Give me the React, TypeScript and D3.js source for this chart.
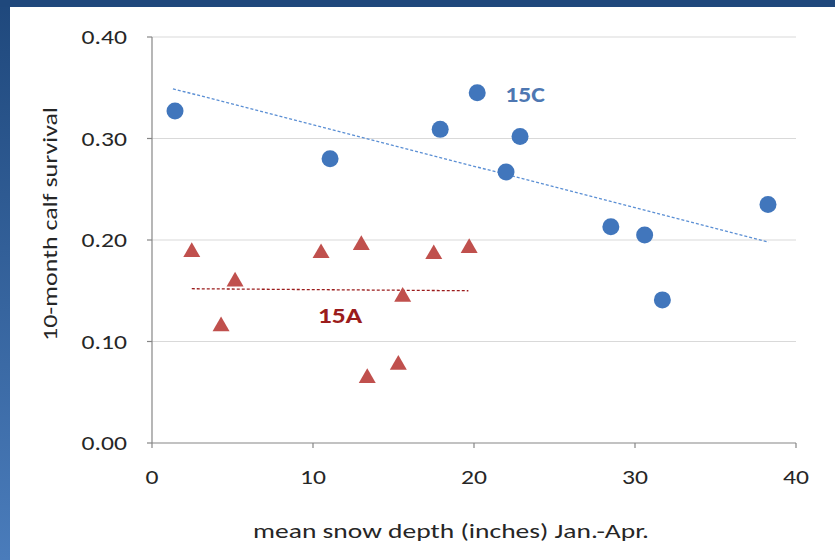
import React from "react";
import * as d3 from "d3";

const xTicks = [0, 10, 20, 30, 40];
const yTicks = [0, 0.1, 0.2, 0.3, 0.4];

const c15X = [1.43, 11.06, 17.9, 20.2, 22.86, 21.99, 28.5, 30.6, 31.7, 38.26];
const c15Y = [0.327, 0.28, 0.309, 0.345, 0.302, 0.267, 0.213, 0.205, 0.141, 0.235];

const a15X = [2.47, 5.16, 4.29, 10.5, 13.0, 17.5, 19.7, 15.57, 13.37, 15.3];
const a15Y = [0.188, 0.159, 0.115, 0.187, 0.195, 0.186, 0.192, 0.144, 0.064, 0.077];

const trendC = [[1.3, 0.349], [38.3, 0.198]];
const trendA = [[2.47, 0.152], [19.65, 0.15]];

const FONT = "Carlito, Lato, 'Open Sans', sans-serif";

function SText(props: {
  x: number;
  y: number;
  sx: number;
  rotate?: number;
  anchor: string;
  size: number;
  fill: string;
  bold?: boolean;
  children: React.ReactNode;
}) {
  const { x, y, sx, rotate, anchor, size, fill, bold, children } = props;
  return (
    <g transform={`translate(${x},${y}) rotate(${rotate || 0}) scale(${sx},1)`}>
      <text
        dy="0.35em"
        textAnchor={anchor}
        fontFamily={FONT}
        fontSize={size}
        fontWeight={bold ? "bold" : "normal"}
        fill={fill}
      >
        {children}
      </text>
    </g>
  );
}

export default function App() {
  const W = 835, H = 560;
  const x = d3.scaleLinear().domain([0, 40]).range([152, 796]);
  const y = d3.scaleLinear().domain([0, 0.4]).range([443, 37]);
  const line = d3.line<number[]>().x((d) => x(d[0])).y((d) => y(d[1]));
  const tri = d3.symbol(d3.symbolTriangle, 125)();
  const fmt = d3.format(".2f");

  return (
    <svg width={W} height={H} style={{ position: "absolute", left: 0, top: 0 }}>
      <defs>
        <linearGradient id="lg" x1="0" y1="0" x2="0" y2="1">
          <stop offset="0" stopColor="#1f487c" />
          <stop offset="1" stopColor="#4a7cbb" />
        </linearGradient>
      </defs>
      <rect x={0} y={0} width={W} height={H} fill="url(#lg)" />
      <rect x={0} y={0} width={W} height={7} fill="#1f487c" />
      <rect x={10} y={7} width={W - 10} height={H - 7} fill="#ffffff" />

      {yTicks.map((t) => (
        <g key={"y" + t}>
          {t > 0 && (
            <line x1={x(0)} x2={x(40)} y1={y(t)} y2={y(t)} stroke="#d9d9d9" strokeWidth={1.2} />
          )}
          <line x1={x(0) - 5} x2={x(0)} y1={y(t)} y2={y(t)} stroke="#868686" strokeWidth={1.2} />
          <SText x={127} y={y(t)} sx={1.22} anchor="end" size={21} fill="#262626">
            {fmt(t)}
          </SText>
        </g>
      ))}
      <line x1={x(0)} x2={x(0)} y1={y(0.4)} y2={y(0)} stroke="#868686" strokeWidth={1.2} />
      <line x1={x(0)} x2={x(40)} y1={y(0)} y2={y(0)} stroke="#868686" strokeWidth={1.2} />
      {xTicks.map((t) => (
        <g key={"x" + t}>
          <line x1={x(t)} x2={x(t)} y1={y(0)} y2={y(0) + 5} stroke="#868686" strokeWidth={1.2} />
          <SText x={x(t)} y={477} sx={1.22} anchor="middle" size={21} fill="#262626">
            {t}
          </SText>
        </g>
      ))}

      <SText x={451} y={531} sx={1.31} anchor="middle" size={21} fill="#262626">
        mean snow depth (inches) Jan.-Apr.
      </SText>
      <SText x={50} y={224} sx={1.3} rotate={-90} anchor="middle" size={20} fill="#262626">
        10-month calf survival
      </SText>

      <path d={line(trendC as any) || ""} stroke="#5b8fd4" strokeWidth={1.3} strokeDasharray="3,2" fill="none" />
      <path d={line(trendA as any) || ""} stroke="#9b1c1c" strokeWidth={1.3} strokeDasharray="3,2" fill="none" />

      {c15X.map((v, i) => (
        <circle key={"c" + i} cx={x(v)} cy={y(c15Y[i])} r={8.5} fill="#4176bc" />
      ))}
      {a15X.map((v, i) => (
        <path key={"a" + i} d={tri || ""} transform={`translate(${x(v)},${y(a15Y[i])})`} fill="#c0504d" />
      ))}

      <SText x={525} y={94} sx={1.12} anchor="middle" size={23} fill="#4e77b2" bold>
        15C
      </SText>
      <SText x={340} y={315} sx={1.2} anchor="middle" size={23} fill="#9b1c1c" bold>
        15A
      </SText>
    </svg>
  );
}
